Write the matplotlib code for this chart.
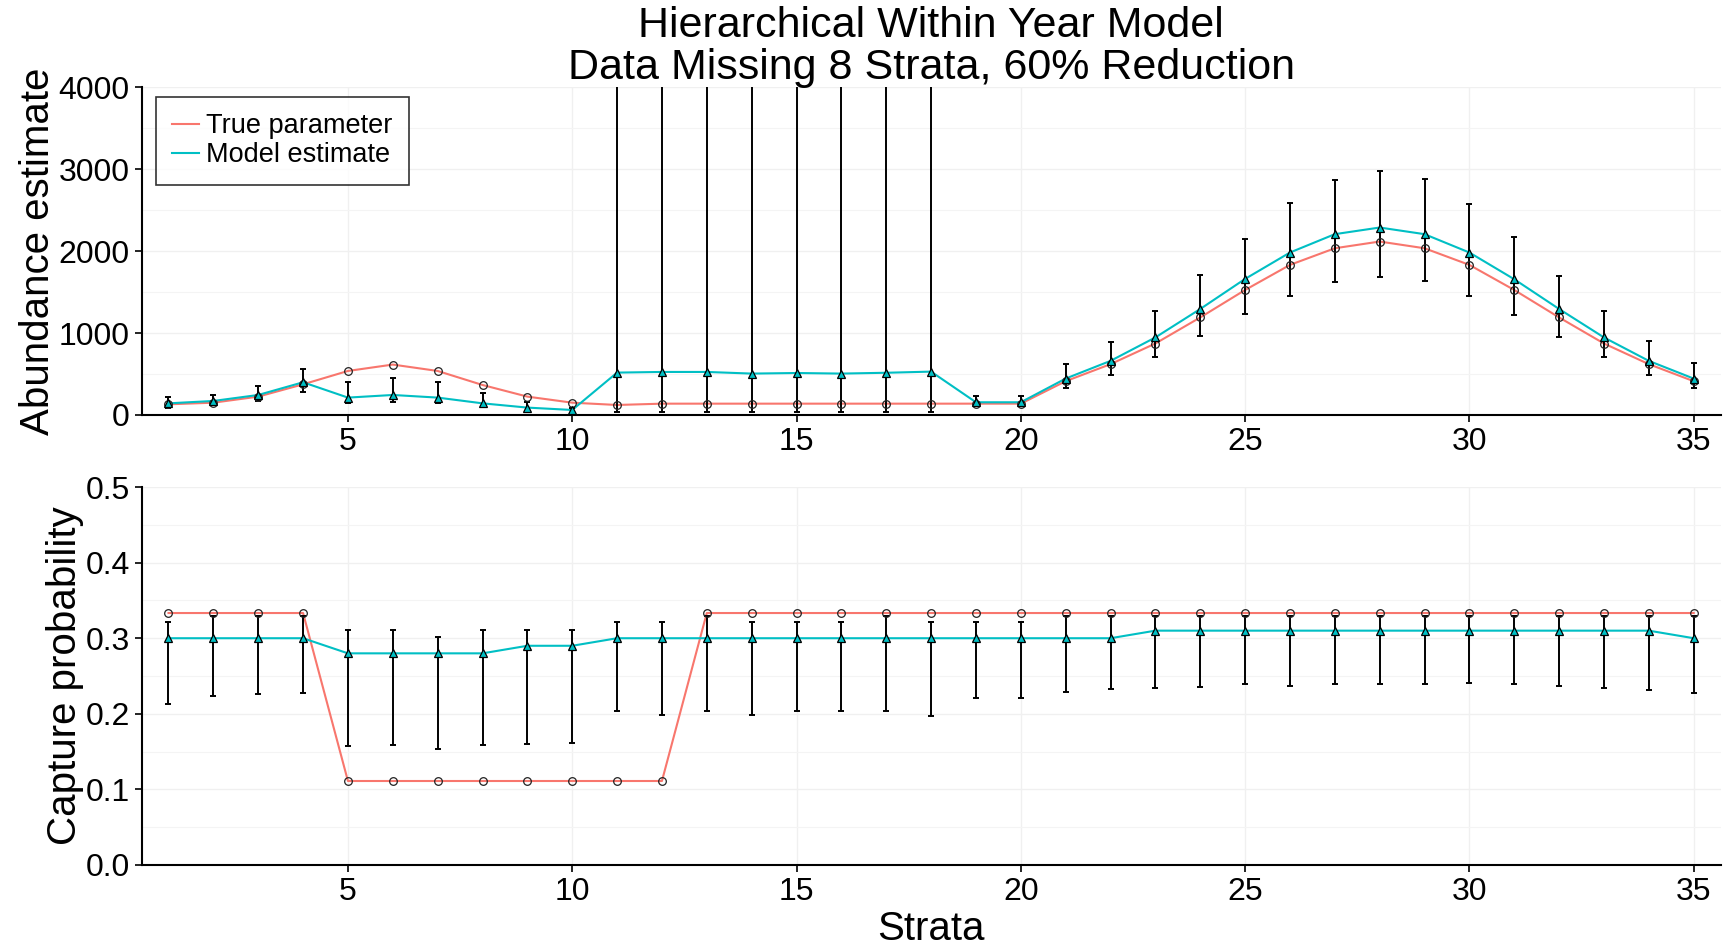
import matplotlib
matplotlib.use("Agg")
import matplotlib.pyplot as plt
import numpy as np
from matplotlib.ticker import MultipleLocator

plt.rcParams['font.family'] = ['Liberation Sans', 'DejaVu Sans']

strata = list(range(1, 36))

# abundance: true parameter and model estimate with interval
n_true = [130, 150, 224, 374, 537, 615, 537, 366, 224, 150, 122,
          138, 138, 138, 138, 138, 138, 138, 138, 138, 412, 620, 872,
          1190, 1525, 1831, 2034, 2116, 2034, 1831, 1525, 1190, 872, 620, 412]
n_est = [142, 171, 244, 399, 212, 244, 212, 142, 90, 61, 517,
         525, 525, 505, 512, 505, 515, 529, 155, 155, 444, 660, 946,
         1293, 1660, 1982, 2206, 2287, 2206, 1982, 1656, 1293, 946, 660, 444]
n_lo = [90, 122, 175, 285, 150, 163, 150, 102, 41, 8, 41,
        41, 41, 41, 41, 41, 41, 41, 114, 114, 330, 493, 709,
        963, 1227, 1456, 1618, 1688, 1635, 1456, 1219, 946, 709, 493, 330]
n_hi = [216, 244, 354, 558, 399, 448, 399, 273, 163, 90, 6000,
        6000, 6000, 6000, 6000, 6000, 6000, 6000, 236, 236, 620, 893, 1272,
        1709, 2149, 2585, 2862, 2972, 2883, 2573, 2169, 1700, 1272, 901, 636]

# capture probability
p_true = [1/3] * 4 + [1/9] * 8 + [1/3] * 23
p_est = [0.30] * 4 + [0.28] * 4 + [0.29] * 2 + [0.30] * 12 + [0.31] * 12 + [0.30]
p_lo = [0.213, 0.223, 0.226, 0.228, 0.157, 0.159, 0.153, 0.159, 0.160, 0.162,
        0.204, 0.199, 0.204, 0.199, 0.204, 0.204, 0.204, 0.197, 0.221, 0.221,
        0.229, 0.233, 0.234, 0.236, 0.239, 0.237, 0.240, 0.240, 0.239, 0.241,
        0.239, 0.237, 0.234, 0.231, 0.228]
p_hi = [0.321, 0.33, 0.33, 0.33, 0.311, 0.311, 0.301, 0.311, 0.311, 0.311,
        0.321, 0.321, 0.33, 0.321, 0.321, 0.321, 0.33, 0.321, 0.321, 0.321,
        0.33, 0.33, 0.33, 0.33, 0.33, 0.33, 0.33, 0.33, 0.33, 0.33,
        0.33, 0.33, 0.33, 0.33, 0.33]

red = '#F8766D'
cyan = '#00BFC4'

fig = plt.figure(figsize=(17.35, 9.47), dpi=100)
ax1 = fig.add_axes([0.0816, 0.5618, 0.9101, 0.3462])
ax2 = fig.add_axes([0.0816, 0.0866, 0.9101, 0.3991])


def style(ax):
    for s in ['top', 'right']:
        ax.spines[s].set_visible(False)
    for s in ['left', 'bottom']:
        ax.spines[s].set_linewidth(1.5)
        ax.spines[s].set_color('black')
    ax.set_xlim(0.4, 35.6)
    ax.xaxis.set_major_locator(MultipleLocator(5))
    ax.grid(which='major', color='#f0f0f0', linewidth=1.0)
    ax.grid(which='minor', axis='y', color='#f4f4f4', linewidth=0.8)
    ax.set_axisbelow(True)
    ax.tick_params(which='major', labelsize=23, length=5, width=1.2, colors='black')
    ax.tick_params(which='minor', length=0)


def draw(ax, t, e, lo, hi):
    x = np.array(strata)
    e = np.array(e)
    ax.plot(x, t, color=red, linewidth=1.5, label='True parameter', zorder=2)
    ax.plot(x, e, color=cyan, linewidth=1.5, label='Model estimate', zorder=2)
    ax.errorbar(x, e, yerr=[e - np.array(lo), np.array(hi) - e], fmt='none',
                ecolor='black', elinewidth=1.4, capsize=2.5, capthick=1.4, zorder=3)
    ax.plot(x, t, 'o', markersize=5.5, markerfacecolor='none', markeredgecolor='#222222',
            markeredgewidth=0.9, zorder=4)
    ax.plot(x, e, '^', markersize=6, markerfacecolor=cyan, markeredgecolor='black',
            markeredgewidth=0.9, zorder=4)


draw(ax1, n_true, n_est, n_lo, n_hi)
style(ax1)
ax1.set_ylim(0, 4000)
ax1.yaxis.set_major_locator(MultipleLocator(1000))
ax1.yaxis.set_minor_locator(MultipleLocator(500))
ax1.set_ylabel('Abundance estimate', fontsize=29, labelpad=1)
leg = ax1.legend(loc='upper left', bbox_to_anchor=(0.009, 0.97), fontsize=19.5,
                 frameon=True, fancybox=False, handlelength=1.0, handletextpad=0.25,
                 borderpad=0.6, labelspacing=0.12, borderaxespad=0)
leg.get_frame().set_edgecolor('black')
leg.get_frame().set_linewidth(1.2)

draw(ax2, p_true, p_est, p_lo, p_hi)
style(ax2)
ax2.set_ylim(0, 0.5)
ax2.yaxis.set_major_locator(MultipleLocator(0.1))
ax2.yaxis.set_minor_locator(MultipleLocator(0.05))
ax2.yaxis.set_major_formatter(plt.FormatStrFormatter('%.1f'))
ax2.set_ylabel('Capture probability', fontsize=29, labelpad=1)
ax2.set_xlabel('Strata', fontsize=29, labelpad=2)

fig.text(0.0816 + 0.9101 / 2, 0.950,
         'Hierarchical Within Year Model\nData Missing 8 Strata, 60% Reduction',
         ha='center', va='center', fontsize=31, linespacing=1.06)

fig.savefig('out.png', dpi=100)
